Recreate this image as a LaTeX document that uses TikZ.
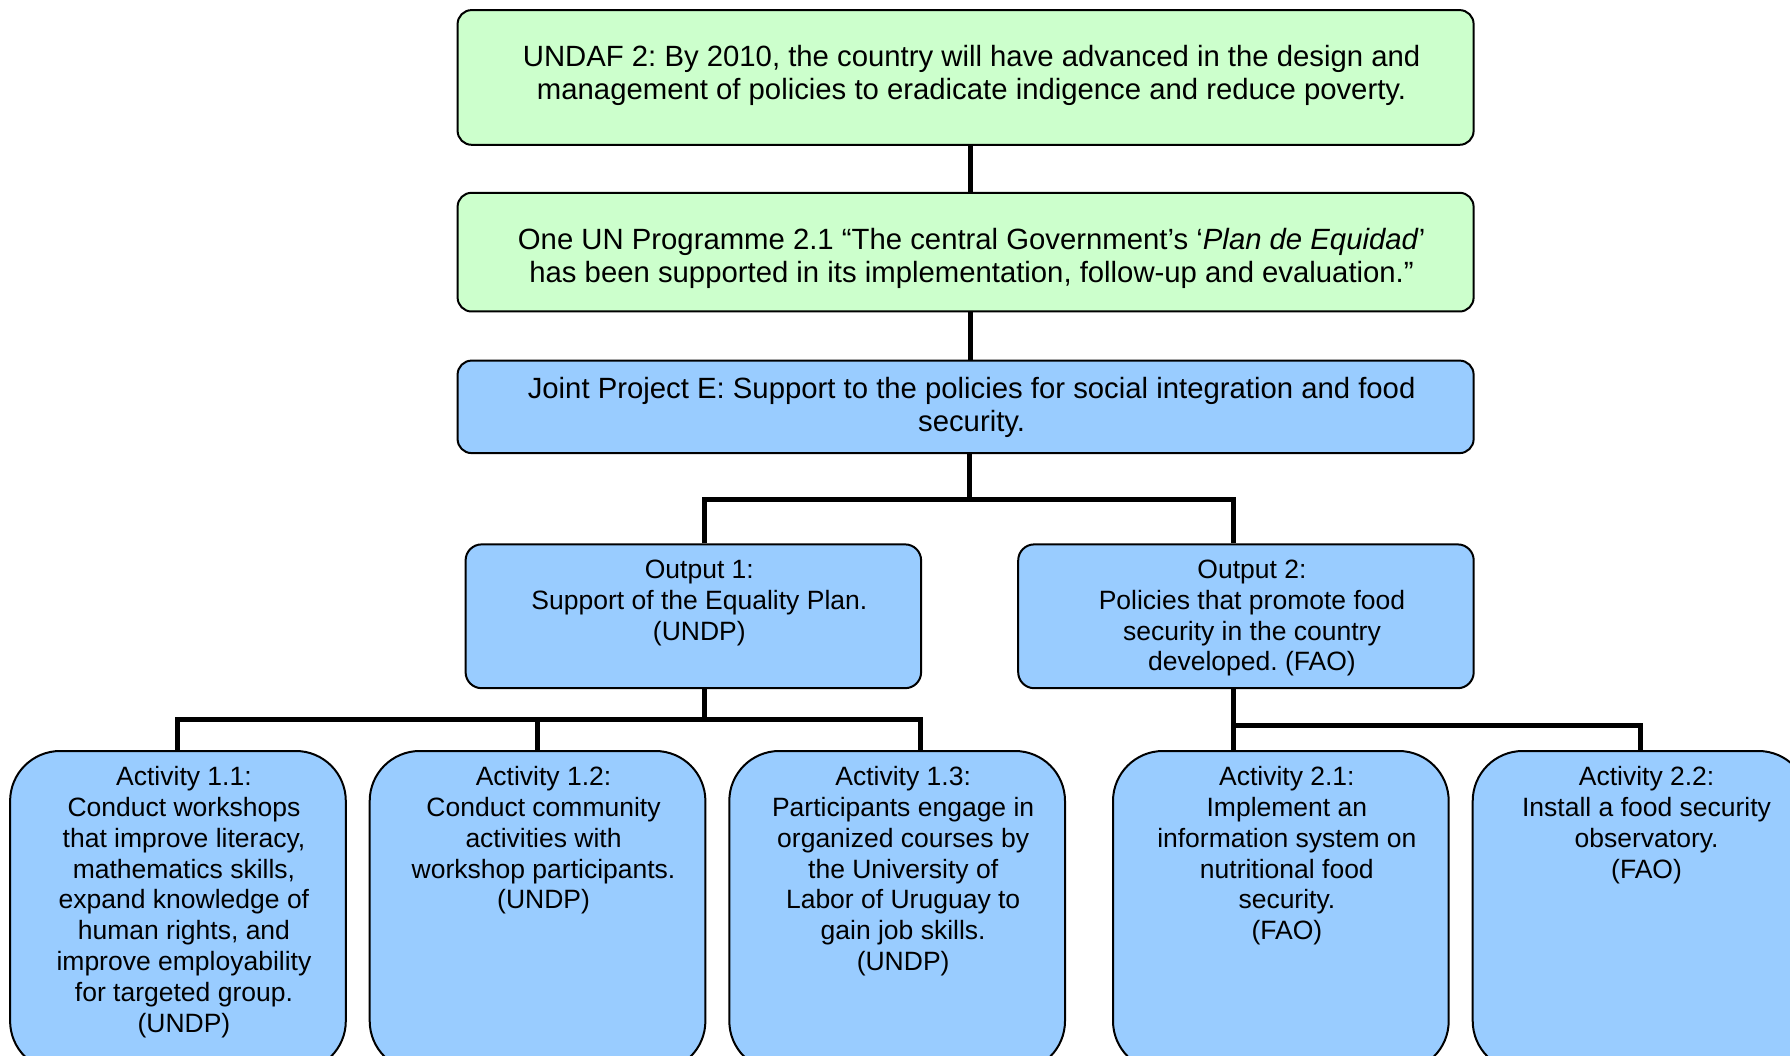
\documentclass[tikz,border=0pt]{standalone}
\usepackage{fontspec}
\setmainfont{Liberation Sans}
\frenchspacing
\usetikzlibrary{positioning}
\definecolor{undafgreen}{HTML}{CCFFCC}
\definecolor{projblue}{HTML}{99CCFF}
\tikzstyle{goal} = [rectangle, rounded corners=14pt, draw=black, line width=2pt, fill=undafgreen, anchor=north west, inner xsep=0pt, inner ysep=35pt, font=\fontsize{29.3}{33.6}\selectfont]
\tikzstyle{project} = [goal, fill=projblue, inner ysep=16.5pt]
\tikzstyle{output} = [project, inner ysep=15.5pt, rounded corners=16pt, font=\fontsize{26.5}{30.8}\selectfont]
\tikzstyle{activity} = [output, rounded corners=50pt]
\tikzstyle{link} = [draw, line width=5pt]
% text a little right of the box centre, as in the original
\newcommand{\boxtext}[3]{\parbox[t][#2pt][t]{#1pt}{\centering\leftskip=12pt plus 1fil #3}}
\begin{document}
\begin{tikzpicture}[x=1pt, y=-1pt]
  \useasboundingbox (0,0) rectangle (1790,1056);
  \clip (0,0) rectangle (1790,1056);

  \node[goal] (undaf) at (456.6,9.1) {\boxtext{1016}{64.7}{UNDAF 2: By 2010, the country will have advanced in the design and\\ management of policies to eradicate indigence and reduce poverty.}};
  \node[goal] (prog) at (456.6,191.8) {\boxtext{1016}{48.7}{One UN Programme 2.1 “The central Government’s ‘\textit{Plan de Equidad}’\\ has been supported in its implementation, follow-up and evaluation.”}};
  \node[project] (jp) at (456.6,359.6) {\boxtext{1016}{59.5}{Joint Project E: Support to the policies for social integration and food\\ security.}};

  \node[output] (out1) at (464.6,543.4) {\boxtext{455.5}{112.8}{Output 1:\\ Support of the Equality Plan.\\ (UNDP)}};
  \node[output] (out2) at (1017.2,543.4) {\boxtext{455.5}{112.8}{Output 2:\\ Policies that promote food\\ security in the country\\ developed. (FAO)}};

  \node[activity] (act11) at (9.1,750) {\boxtext{335.7}{289}{Activity 1.1:\\ Conduct workshops\\ that improve literacy,\\ mathematics skills,\\ expand knowledge of\\ human rights, and\\ improve employability\\ for targeted group.\\ (UNDP)}};
  \node[activity, right=21.9pt of act11] (act12) {\boxtext{335.7}{289}{Activity 1.2:\\ Conduct community\\ activities with\\ workshop participants.\\ (UNDP)}};
  \node[activity, right=21.9pt of act12] (act13) {\boxtext{335.7}{289}{Activity 1.3:\\ Participants engage in\\ organized courses by\\ the University of\\ Labor of Uruguay to\\ gain job skills.\\ (UNDP)}};
  \node[activity, right=46pt of act13] (act21) {\boxtext{335.7}{289}{Activity 2.1:\\ Implement an\\ information system on\\ nutritional food\\ security.\\ (FAO)}};
  \node[activity, right=22pt of act21] (act22) {\boxtext{335.7}{289}{Activity 2.2:\\ Install a food security\\ observatory.\\ (FAO)}};

  \coordinate (busE) at (969,499);
  \coordinate (busE1) at (704,499);
  \coordinate (busE2) at (1233,499);
  \coordinate (bus1) at (704,719);
  \coordinate (bus1r) at (920,719);
  \coordinate (bus2) at (1233,725);

  \draw[link] ([xshift=4.5pt]undaf.south) -- ([xshift=4.5pt]prog.north);
  \draw[link] ([xshift=4.5pt]prog.south) -- ([xshift=4.5pt]jp.north);
  \draw[link] (jp.south -| busE) -- (busE);
  \draw[link] (out1.north -| busE1) |- (busE2) -- (out2.north -| busE2);

  \draw[link] (out1.south -| bus1) -- (bus1);
  \draw[link] (act11.north) |- (bus1r) -- (act13.north -| bus1r);
  \draw[link] (act12.north) -- (act12.north |- bus1);

  \draw[link] (out2.south -| bus2) -- (act21.north -| bus2);
  \draw[link] (bus2) -| (act22.north);
\end{tikzpicture}
\end{document}
